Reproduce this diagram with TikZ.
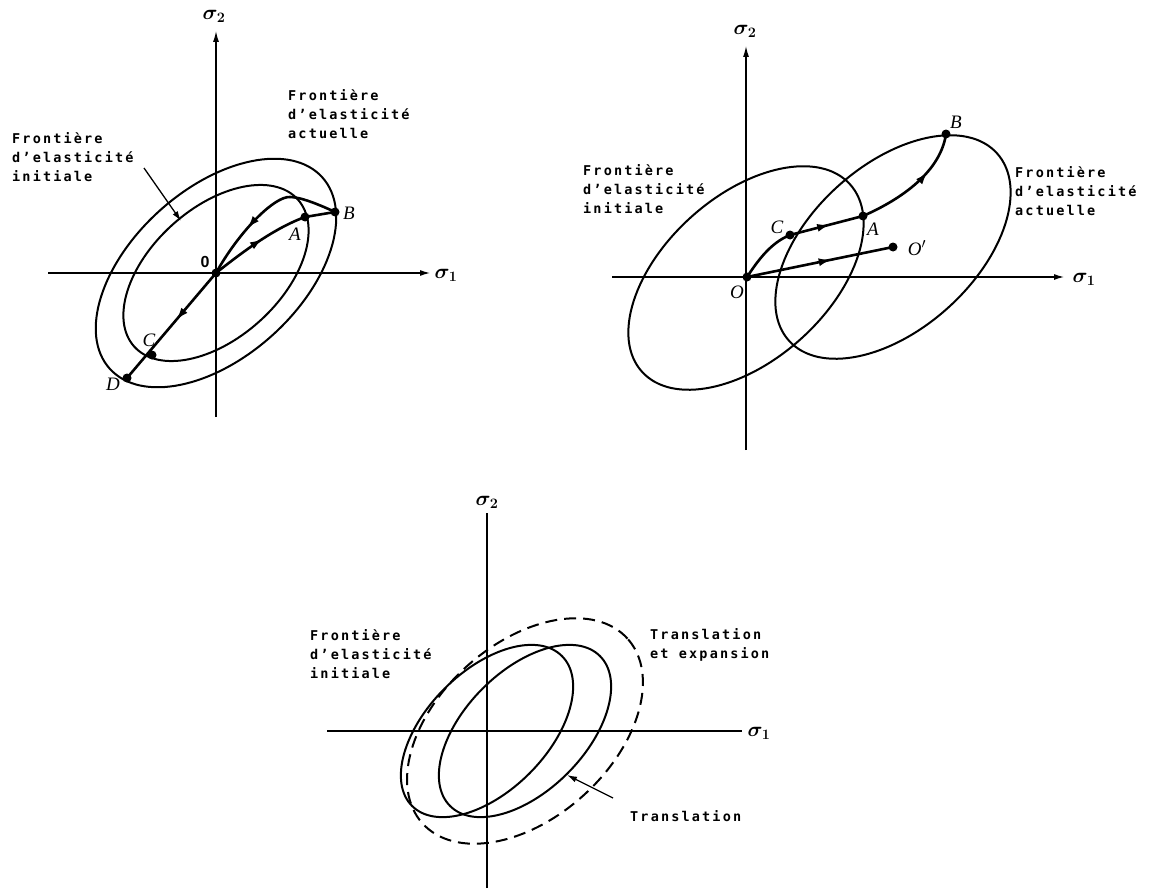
\documentclass[tikz,border=0pt]{standalone}
\usepackage{fontspec}
\usepackage{bm}
\usetikzlibrary{arrows.meta,decorations.markings}
\newfontfamily\letfont{DejaVu Sans Mono Bold}[LetterSpace=16]
\newfontfamily\ptfont{Liberation Serif}
\newfontfamily\zerofont{Liberation Sans}
\tikzset{
  axisline/.style={line width=1.3pt},
  haxis/.style={line width=1.9pt},
  axisarrow/.style={-{Latex[length=11pt,width=6pt]}},
  surf/.style={line width=2pt},
  dsurf/.style={line width=2pt, dash pattern=on 12pt off 7pt},
  loadpath/.style={line width=2.6pt},
  midarrow/.style={postaction={decorate}, decoration={markings, mark=at position #1 with {\arrow{Latex[length=13pt,width=8pt]}}}},
  lab/.style={font=\letfont\fontsize{13.5}{19}\selectfont, align=left, anchor=north west, inner sep=0pt},
  ptlab/.style={font=\ptfont\itshape\fontsize{19}{19}\selectfont, inner sep=0pt},
  siglab/.style={font=\fontsize{21}{21}\selectfont\boldmath, inner sep=0pt},
  pointer/.style={line width=1.3pt, -{Latex[length=10pt,width=6pt]}},
}
\begin{document}
\begin{tikzpicture}[x=1pt,y=1pt]
\fill[white] (0,0) rectangle (1152,-891);
\useasboundingbox (0,0) rectangle (1152,-891);

% ================= Panel 1 =================
\coordinate (O1) at (216,-273);
\coordinate (A1) at (305,-217);
\coordinate (B1) at (335,-212);
\coordinate (P1) at (290,-197);
\coordinate (C1) at (152,-355);
\coordinate (D1) at (127,-378);
\coordinate (x1s) at (48,-273);
\coordinate (x1e) at (431,-273);
\coordinate (y1s) at (216,-417);
\coordinate (y1e) at (216,-31);
\draw[haxis, axisarrow] (x1s) -- (x1e);
\draw[axisline, axisarrow] (y1s) -- (y1e);
\node[siglab] (s11) at (446,-275) {$\sigma_1$};
\node[siglab] (s12) at (214,-16) {$\sigma_2$};
% surfaces
\draw[surf, rotate around={42:(O1)}] (O1) ellipse [x radius=143pt, y radius=84pt];
\draw[surf, rotate around={42:(O1)}] (O1) ellipse [x radius=110pt, y radius=65pt];
% load path
\draw[loadpath, midarrow=0.55] (O1) .. controls (245,-250) and (275,-228) .. (A1);
\draw[loadpath] (A1) -- (B1);
\draw[loadpath] (B1) .. controls (318,-204) and (300,-197) .. (P1);
\draw[loadpath, midarrow=0.5] (P1) .. controls (275,-196) and (240,-230) .. (O1);
\draw[loadpath, midarrow=0.45] (O1) -- (D1);
\foreach \p in {O1,A1,B1,C1,D1} \fill (\p) circle (4.5pt);
\node[font=\zerofont\bfseries\fontsize{16}{16}\selectfont, inner sep=0pt] (lO1) at (205,-262) {0};
\node[ptlab] (lA1) at (295,-234) {A};
\node[ptlab] (lB1) at (349,-213) {B};
\node[ptlab] (lC1) at (149,-340) {C};
\node[ptlab] (lD1) at (113,-384) {D};
\node[lab] (t1a) at (288,-89.5) {Frontière\\d’elasticité\\actuelle};
\node[lab] (t1b) at (12,-132.5) {Frontière\\d’elasticité\\initiale};
\coordinate (ptr1s) at (144,-168);
\coordinate (ptr1e) at (181,-221);
\draw[pointer] (ptr1s) -- (ptr1e);

% ================= Panel 2 =================
\coordinate (O2) at (747,-277);
\coordinate (C2) at (790,-235);
\coordinate (A2) at (863,-216);
\coordinate (B2) at (946,-134);
\coordinate (Q2) at (893,-247);
\coordinate (E2) at (746,-278);
\coordinate (x2s) at (612,-277);
\coordinate (x2e) at (1065,-277);
\coordinate (y2s) at (746,-450);
\coordinate (y2e) at (746,-46);
\draw[haxis, axisarrow] (x2s) -- (x2e);
\draw[axisline, axisarrow] (y2s) -- (y2e);
\node[siglab] (s21) at (1084,-279) {$\sigma_1$};
\node[siglab] (s22) at (745,-31) {$\sigma_2$};
\draw[surf, rotate around={42:(E2)}] (E2) ellipse [x radius=140pt, y radius=82pt];
\draw[surf, rotate around={42:(Q2)}] (Q2) ellipse [x radius=140pt, y radius=82pt];
\draw[loadpath] (O2) .. controls (757,-262) and (770,-243) .. (C2);
\draw[loadpath, midarrow=0.55] (C2) -- (A2);
\draw[loadpath, midarrow=0.65] (A2) .. controls (895,-202) and (940,-175) .. (B2);
\draw[loadpath, midarrow=0.58] (O2) -- (Q2);
\foreach \p in {O2,C2,A2,B2,Q2} \fill (\p) circle (4.5pt);
\node[ptlab] (lO2) at (737,-292) {O};
\node[ptlab] (lC2) at (777,-227) {C};
\node[ptlab] (lA2) at (873,-229) {A};
\node[ptlab] (lQ2) at (917,-248) {O$'$};
\node[ptlab] (lB2) at (956,-122) {B};
\node[lab] (t2a) at (583,-164.5) {Frontière\\d’elasticité\\initiale};
\node[lab] (t2b) at (1015,-166.5) {Frontière\\d’elasticité\\actuelle};

% ================= Panel 3 =================
\coordinate (O3) at (487,-731);
\coordinate (T3) at (525,-731);
\coordinate (x3s) at (327,-731);
\coordinate (x3e) at (742,-731);
\coordinate (y3s) at (487,-888);
\coordinate (y3e) at (487,-513);
\draw[haxis] (x3s) -- (x3e);
\draw[axisline] (y3s) -- (y3e);
\node[siglab] (s31) at (759,-733) {$\sigma_1$};
\node[siglab] (s32) at (487,-502) {$\sigma_2$};
\draw[surf, rotate around={45:(O3)}] (O3) ellipse [x radius=106pt, y radius=60pt];
\draw[surf, rotate around={45:(T3)}] (T3) ellipse [x radius=106pt, y radius=60pt];
\draw[dsurf, rotate around={42:(T3)}] (T3) ellipse [x radius=138pt, y radius=87pt];
\node[lab] (t3a) at (310,-629.5) {Frontière\\d’elasticité\\initiale};
\node[lab] (t3b) at (650,-628) {Translation\\et expansion};
\node[lab] (t3c) at (630,-810) {Translation};
\coordinate (ptr3s) at (613,-798);
\coordinate (ptr3e) at (567,-775);
\draw[pointer] (ptr3s) -- (ptr3e);
\end{tikzpicture}
\end{document}
